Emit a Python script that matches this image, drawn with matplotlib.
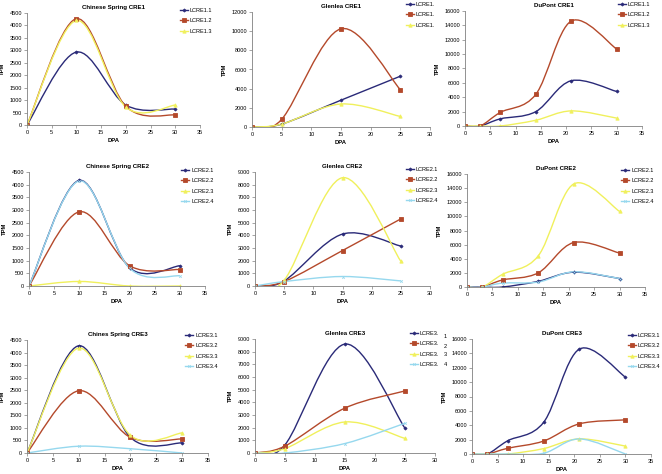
import numpy as np
import matplotlib
matplotlib.use("Agg")
import matplotlib.pyplot as plt
from matplotlib.path import Path
from matplotlib.patches import PathPatch
from matplotlib.lines import Line2D

plt.rcParams['font.family'] = ['Liberation Sans', 'DejaVu Sans']

W, H = 662, 474

# ---- data ----
cs_dpa = [0, 10, 20, 30]
gl_dpa = [0, 5, 15, 25]
dp_dpa = [0, 3, 7, 14, 21, 30]

# Chinese Spring CRE1
cs1_a = [0, 2930, 800, 640]
cs1_b = [0, 4270, 750, 400]
cs1_c = [0, 4200, 720, 800]
# Glenlea CRE1
gl1_a = [0, 300, 2800, 5300]
gl1_b = [0, 800, 10250, 3900]
gl1_c = [0, 300, 2400, 1100]
# DuPont CRE1
dp1_a = [0, 0, 1000, 2000, 6300, 4800]
dp1_b = [0, 0, 1900, 4400, 14600, 10700]
dp1_c = [0, 0, 0, 800, 2100, 1100]

# Chinese Spring CRE2
cs2_a = [0, 4170, 720, 800]
cs2_b = [0, 2930, 800, 650]
cs2_c = [0, 180, 0, 0]
cs2_d = [0, 4150, 700, 400]
# Glenlea CRE2
gl2_a = [0, 400, 4100, 3150]
gl2_b = [0, 350, 2800, 5300]
gl2_c = [0, 450, 8550, 1950]
gl2_d = [0, 350, 750, 400]
# DuPont CRE2
dp2_a = [0, 0, 0, 800, 2100, 1200]
dp2_b = [0, 0, 1000, 2000, 6300, 4800]
dp2_c = [0, 0, 1800, 4400, 14600, 10700]
dp2_d = [0, 0, 550, 700, 2150, 1200]

# Chines Spring CRE3
cs3_a = [0, 4270, 620, 400]
cs3_b = [0, 2480, 620, 560]
cs3_c = [0, 4180, 700, 800]
cs3_d = [0, 270, 170, 0]
# Glenlea CRE3
gl3_a = [0, 650, 8600, 1950]
gl3_b = [0, 550, 3550, 4900]
gl3_c = [0, 350, 2450, 1150]
gl3_d = [0, 0, 750, 2350]
# DuPont CRE3
dp3_a = [0, 0, 1850, 4400, 14600, 10700]
dp3_b = [0, 0, 800, 1800, 4200, 4750]
dp3_c = [0, 0, 0, 750, 2100, 1100]
dp3_d = [0, 0, 0, 100, 2100, 0]

titles = ["Chinese Spring CRE1", "Glenlea CRE1", "DuPont CRE1",
          "Chinese Spring CRE2", "Glenlea CRE2", "DuPont CRE2",
          "Chines Spring CRE3", "Glenlea CRE3", "DuPont CRE3"]

labels1 = ["LCRE1.1", "LCRE1.2", "LCRE1.3"]
labels1_cut = ["LCRE1.", "LCRE1.", "LCRE1."]
labels2 = ["LCRE2.1", "LCRE2.2", "LCRE2.3", "LCRE2.4"]
labels3 = ["LCRE3.1", "LCRE3.2", "LCRE3.3", "LCRE3.4"]
labels3_cut = ["LCRE3.", "LCRE3.", "LCRE3.", "LCRE3."]

colors = ['#2a2a78', '#b4492b', '#f0f05c', '#96d8ee']
markers = ['D', 's', '^', 'x']
msizes = [1.6, 2.2, 2.4, 1.8]

# panel layout in pixels: (x0, x1, ytop, ybottom), legend (x, ytop)
panels = [
    dict(box=(27, 200, 13, 125), xdpa=cs_dpa, series=[cs1_a, cs1_b, cs1_c], labels=labels1,
         ymax=4500, ystep=500, xmax=35, leg=(180, 8)),
    dict(box=(252, 430, 12, 127), xdpa=gl_dpa, series=[gl1_a, gl1_b, gl1_c], labels=labels1_cut,
         ymax=12000, ystep=2000, xmax=30, leg=(406, 2)),
    dict(box=(465, 642, 11, 126), xdpa=dp_dpa, series=[dp1_a, dp1_b, dp1_c], labels=labels1,
         ymax=16000, ystep=2000, xmax=35, leg=(618, 2)),
    dict(box=(29, 205, 172, 286), xdpa=cs_dpa, series=[cs2_a, cs2_b, cs2_c, cs2_d], labels=labels2,
         ymax=4500, ystep=500, xmax=35, leg=(181, 168)),
    dict(box=(255, 430, 172, 286), xdpa=gl_dpa, series=[gl2_a, gl2_b, gl2_c, gl2_d], labels=labels2,
         ymax=9000, ystep=1000, xmax=30, leg=(406, 167)),
    dict(box=(467, 645, 174, 287), xdpa=dp_dpa, series=[dp2_a, dp2_b, dp2_c, dp2_d], labels=labels2,
         ymax=16000, ystep=2000, xmax=35, leg=(621, 168)),
    dict(box=(27, 208, 340, 453), xdpa=cs_dpa, series=[cs3_a, cs3_b, cs3_c, cs3_d], labels=labels3,
         ymax=4500, ystep=500, xmax=35, leg=(185, 333)),
    dict(box=(255, 435, 339, 453), xdpa=gl_dpa, series=[gl3_a, gl3_b, gl3_c, gl3_d], labels=labels3_cut,
         ymax=9000, ystep=1000, xmax=30, leg=(410, 331)),
    dict(box=(472, 651, 339, 454), xdpa=dp_dpa, series=[dp3_a, dp3_b, dp3_c, dp3_d], labels=labels3,
         ymax=16000, ystep=2000, xmax=35, leg=(628, 333)),
]


def smooth_path(x, y):
    # Excel-style smoothed line: cubic Bezier through the points
    pts = np.column_stack([x, y]).astype(float)
    n = len(pts)
    verts = [pts[0]]
    codes = [Path.MOVETO]
    for i in range(n - 1):
        p0 = pts[i - 1] if i > 0 else pts[i]
        p1 = pts[i]
        p2 = pts[i + 1]
        p3 = pts[i + 2] if i + 2 < n else pts[i + 1]
        c1 = p1 + (p2 - p0) / 6.0
        c2 = p2 - (p3 - p1) / 6.0
        verts += [c1, c2, p2]
        codes += [Path.CURVE4] * 3
    return Path(verts, codes)


fig = plt.figure(figsize=(W / 100, H / 100), dpi=100)

for title, p in zip(titles, panels):
    x0, x1, yt, yb = p['box']
    ax = fig.add_axes([x0 / W, 1 - yb / H, (x1 - x0) / W, (yb - yt) / H])
    handles = []
    for k, ys in enumerate(p['series']):
        patch = PathPatch(smooth_path(p['xdpa'], ys), facecolor='none',
                          edgecolor=colors[k], lw=1.0)
        ax.add_patch(patch)
        ax.plot(p['xdpa'], ys, ls='none', marker=markers[k], ms=msizes[k],
                color=colors[k], mec=colors[k], mew=0.6)
        handles.append(Line2D([], [], color=colors[k], lw=1.0, marker=markers[k],
                              ms=msizes[k], mew=0.6))
    ax.set_xlim(0, p['xmax'])
    ax.set_ylim(0, p['ymax'])
    ax.set_xticks(np.arange(0, p['xmax'] + 1, 5))
    ax.set_yticks(np.arange(0, p['ymax'] + 1, p['ystep']))
    for s in ['top', 'right']:
        ax.spines[s].set_visible(False)
    for s in ['left', 'bottom']:
        ax.spines[s].set_color('#808080')
        ax.spines[s].set_linewidth(0.6)
    ax.tick_params(labelsize=4.0, length=2, width=0.5, pad=1.5, colors='#808080',
                   labelcolor='black')
    ax.set_title(title, fontsize=4.4, fontweight='bold', pad=3)
    ax.set_xlabel("DPA", fontsize=4.2, fontweight='bold', labelpad=2)
    ax.set_ylabel("TPM", fontsize=4.2, fontweight='bold', labelpad=3)
    lx, ly = p['leg']
    fig.legend(handles, p['labels'], loc='upper left',
               bbox_to_anchor=(lx / W, 1 - ly / H), frameon=False, fontsize=4.0,
               handlelength=1.5, handletextpad=0.3, labelspacing=0.95,
               borderpad=0, borderaxespad=0)

# label tails spilling over from the Glenlea CRE3 legend
for t, yy in zip(["1", "2", "3", "4"], [336, 346, 355, 365]):
    fig.text(444 / W, 1 - yy / H, t, fontsize=4.0, va='center', ha='left')

fig.savefig("out.png", dpi=100)
